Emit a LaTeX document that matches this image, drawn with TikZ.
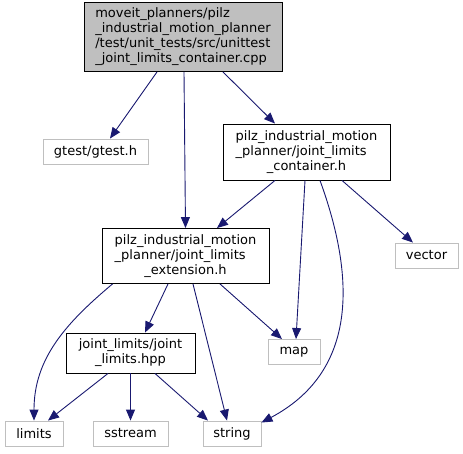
\documentclass[tikz,border=0pt]{standalone}
\usepackage{fontspec}
\setmainfont{DejaVu Sans}
\usetikzlibrary{arrows.meta}
\definecolor{edgeblue}{HTML}{191970}
\definecolor{boxgray}{HTML}{BFBFBF}
\begin{document}
\begin{tikzpicture}[
			x=1pt, y=-1pt,
			>={Stealth[inset=0pt, length=11pt, width=9pt]},
			file/.style={rectangle, draw=black, line width=0.9pt, inner sep=0pt, font=\fontsize{13}{15}\selectfont},
			sysfile/.style={file, draw=boxgray, minimum height=25pt},
			every edge/.style={draw=edgeblue, line width=0.9pt}
		]
			\useasboundingbox (0,0) rectangle (463,453);
			% 被测源文件
			\node[file, fill=boxgray, minimum width=198pt, minimum height=69pt] (top) at (183,37)
				{\begin{tabular}{@{}l@{}}moveit\_planners/pilz\\\_industrial\_motion\_planner\\/test/unit\_tests/src/unittest\\\_joint\_limits\_container.cpp\end{tabular}};
			\node[file, minimum width=167pt, minimum height=56pt] (cont) at (306.5,152)
				{\begin{tabular}{@{}l@{}}pilz\_industrial\_motion\\\_planner/joint\_limits\\\multicolumn{1}{@{}c@{}}{\_container.h}\end{tabular}};
			\node[file, minimum width=167pt, minimum height=55pt] (ext) at (185.5,256)
				{\begin{tabular}{@{}l@{}}pilz\_industrial\_motion\\\_planner/joint\_limits\\\multicolumn{1}{@{}c@{}}{\_extension.h}\end{tabular}};
			\node[file, minimum width=129pt, minimum height=40pt] (hpp) at (130.5,353)
				{\begin{tabular}{@{}c@{}}joint\_limits/joint\\\_limits.hpp\end{tabular}};

			% 系统头文件
			\node[sysfile, minimum width=105pt] (gtest) at (95.5,151.5) {gtest/gtest.h};
			\node[sysfile, minimum width=63pt] (vector) at (426.5,255.5) {vector};
			\node[sysfile, minimum width=52pt] (map) at (294,352) {map};
			\node[sysfile, minimum width=58pt] (limits) at (34,433.5) {limits};
			\node[sysfile, minimum width=75pt] (sstream) at (130.5,433.5) {sstream};
			\node[sysfile, minimum width=58pt] (string) at (232,433.5) {string};

			\path[->]
				([xshift=-26pt]top.south) edge ([xshift=14.5pt]gtest.north)
				([xshift=1pt]top.south) edge (ext.north)
				([xshift=40pt]top.south) edge ([xshift=-31.5pt]cont.north)
				([xshift=-31.5pt]cont.south) edge ([xshift=31.5pt]ext.north)
				([xshift=-1.5pt]cont.south) edge ([xshift=2pt]map.north)
				([xshift=13.5pt]cont.south) edge[out=-70, in=28, looseness=1.1] ([yshift=-2pt]string.north east)
				([xshift=35.5pt]cont.south) edge ([xshift=-13.5pt]vector.north)
				([xshift=-73pt]ext.south) edge[out=-140, in=90] (limits.north)
				([xshift=-17.5pt]ext.south) edge ([xshift=14.5pt]hpp.north)
				([xshift=7.5pt]ext.south) edge ([xshift=-5pt]string.north)
				([xshift=34.5pt]ext.south) edge ([xshift=-12pt]map.north)
				([xshift=-22.5pt]hpp.south) edge ([xshift=14pt]limits.north)
				(hpp.south) edge (sstream.north)
				([xshift=24.5pt]hpp.south) edge ([xshift=-24pt]string.north);
		\end{tikzpicture}
\end{document}
